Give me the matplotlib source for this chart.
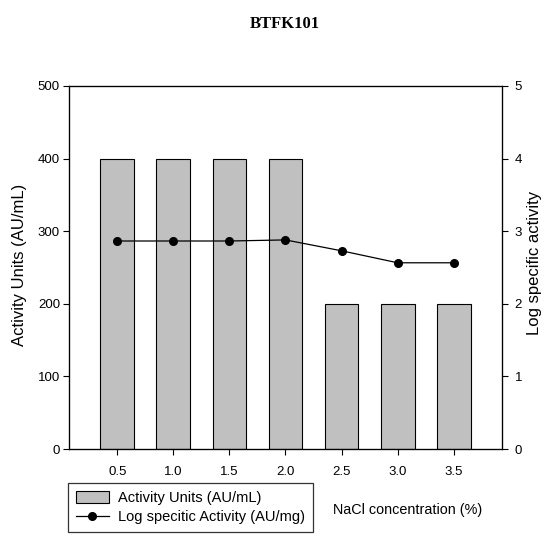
import matplotlib
matplotlib.use("Agg")
import matplotlib.pyplot as plt

nacl = [0.5, 1.0, 1.5, 2.0, 2.5, 3.0, 3.5]
tick_labels = ["0.5", "1.0", "1.5", "2.0", "2.5", "3.0", "3.5"]
activity_units = [400, 400, 400, 400, 200, 200, 200]
log_specific = [2.865, 2.865, 2.865, 2.88, 2.73, 2.565, 2.565]

plt.rcParams['font.family'] = ['Liberation Sans', 'DejaVu Sans']

W, H = 544, 539
fig = plt.figure(figsize=(W / 100, H / 100), dpi=100)
ax = fig.add_axes([69 / W, 1 - 449 / H, (502 - 69) / W, (449 - 86) / H])

bars = ax.bar(nacl, activity_units, width=0.3, color="#c0c0c0", edgecolor="black",
              linewidth=0.8, label="Activity Units (AU/mL)")
ax.set_xlim(0.07, 3.93)
ax.set_ylim(0, 500)
ax.set_xticks(nacl)
ax.set_xticklabels(tick_labels)
ax.set_yticks([0, 100, 200, 300, 400, 500])
ax.tick_params(axis="y", direction="out", labelsize=9.5, length=4, width=0.8, pad=2.5)
ax.tick_params(axis="x", direction="out", labelsize=9.5, length=4, width=0.8, pad=8)
for s in ax.spines.values():
    s.set_linewidth(0.9)

ax2 = ax.twinx()
line, = ax2.plot(nacl, log_specific, color="black", marker="o", markersize=5.5,
                 linewidth=0.9, label="Log specitic Activity (AU/mg)")
ax2.set_ylim(0, 5)
ax2.set_yticks([0, 1, 2, 3, 4, 5])
ax2.tick_params(axis="y", direction="out", labelsize=9.5, length=4, width=0.8, pad=5)

fig.text(20 / W, 1 - 264.5 / H, "Activity Units (AU/mL)", fontsize=12,
         rotation=90, ha="center", va="center")
fig.text(542.5 / W, 1 - 263 / H, "Log specific activity", fontsize=12,
         rotation=90, ha="right", va="center")
fig.text(408 / W, 1 - 510 / H, "NaCl concentration (%)", fontsize=10.4,
         ha="center", va="center")
fig.text(285 / W, 1 - 24 / H, "BTFK101", fontsize=12, fontweight="bold",
         family="Liberation Serif", ha="center", va="center")

leg = fig.legend([bars, line], ["Activity Units (AU/mL)", "Log specitic Activity (AU/mg)"],
                 loc="upper left", bbox_to_anchor=(68 / W, 1 - 483 / H),
                 bbox_transform=fig.transFigure, fontsize=10.5, frameon=True,
                 fancybox=False, edgecolor="black", borderpad=0.55, handlelength=2.25,
                 handleheight=0.8, handletextpad=0.6, labelspacing=0.35, borderaxespad=0)
leg.get_frame().set_linewidth(0.9)

fig.savefig("out.png", dpi=100)
